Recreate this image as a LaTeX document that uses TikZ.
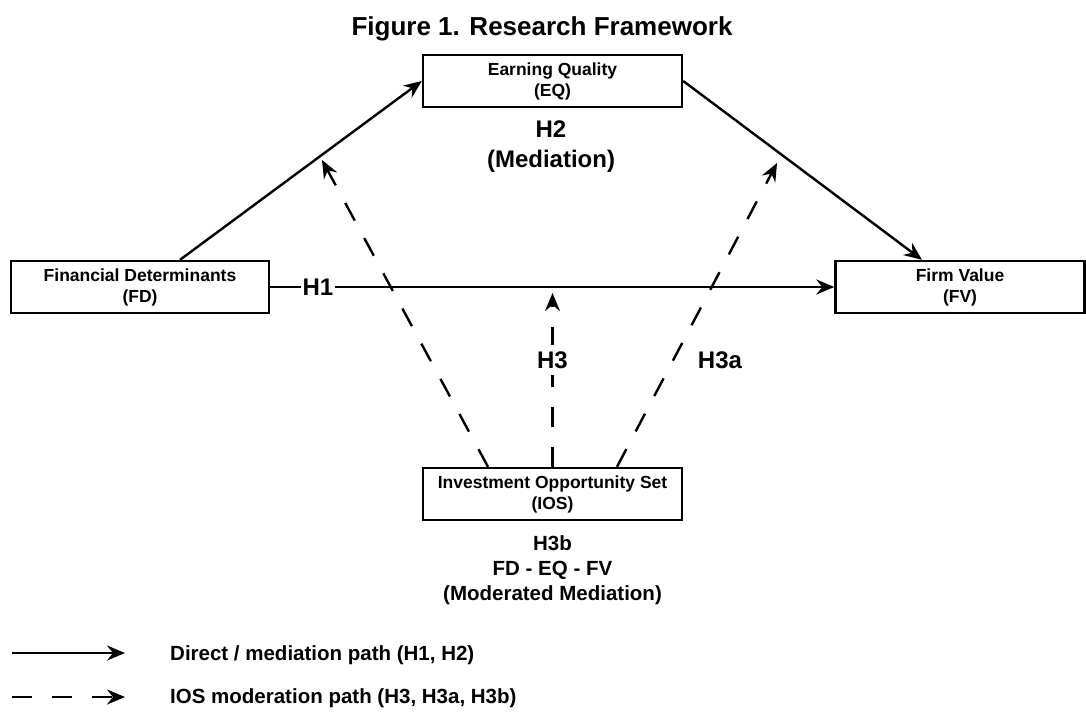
\documentclass[tikz,border=0pt]{standalone}
\usepackage{fontspec}
\setmainfont{Liberation Sans}
\usetikzlibrary{arrows.meta}
\begin{document}
\begin{tikzpicture}[x=1pt,y=-1pt,
  box/.style={draw, line width=2.4pt, minimum height=52pt, inner sep=0pt, align=center,
    font=\fontsize{17.5}{21}\selectfont\bfseries},
  arr/.style={line width=2.4pt, -{Stealth[length=18pt,width=15pt,inset=6pt]}},
  dsh/.style={arr, dash pattern=on 20pt off 20pt},
  lbl/.style={font=\fontsize{24}{30}\selectfont\bfseries, align=center, inner sep=2pt},
  lbls/.style={font=\fontsize{20.5}{25}\selectfont\bfseries, align=center},
  leg/.style={font=\fontsize{20.5}{25}\selectfont\bfseries, anchor=west, inner sep=0pt}
]
\useasboundingbox (0,0) rectangle (1086,716);
\fill[white] (0,0) rectangle (1086,716);

\node[font=\fontsize{26}{30}\selectfont\bfseries] (title) at (542,29) {Figure 1. Research Framework};

\node[box, minimum width=259pt] (EQ) at (552.5,81) {Earning Quality\\(EQ)};
\node[box, minimum width=258pt] (FD) at (140,287) {Financial Determinants\\(FD)};
\node[box, minimum width=249pt] (FV) at (960,287) {Firm Value\\(FV)};
\node[box, minimum width=259pt] (IOS) at (552.5,494) {Investment Opportunity Set\\(IOS)};

% solid paths
\draw[arr] ([xshift=40pt]FD.north) -- (EQ.west);
\draw[arr] (EQ.east) -- ([xshift=-38pt]FV.north);
\draw[arr] (FD.east) -- (FV.west);

% moderation targets
\coordinate (tL) at (322,160);
\coordinate (tM) at (552.5,293);
\coordinate (tR) at (777,163);
\draw[dsh] ([xshift=-64.5pt]IOS.north) -- (tL);
\draw[dsh] (IOS.north) -- (tM);
\draw[dsh] ([xshift=64.5pt]IOS.north) -- (tR);

% labels
\node[lbl, fill=white] (H1) at (318,287) {H1};
\node[lbl] (H2) at (551,147) {H2\\(Mediation)};
\node[lbl, fill=white, inner ysep=6pt] (H3) at (552.5,360) {H3};
\node[lbl] (H3a) at (720,360) {H3a};
\node[lbls] (H3b) at (552.5,570) {H3b\\FD - EQ - FV\\(Moderated Mediation)};

% legend
\coordinate (a1s) at (12,653);
\coordinate (a1e) at (125,653);
\coordinate (a2s) at (12,697);
\coordinate (a2e) at (125,697);
\draw[arr] (a1s) -- (a1e);
\draw[dsh] (a2s) -- (a2e);
\node[leg] (L1) at (170,655) {Direct / mediation path (H1, H2)};
\node[leg] (L2) at (170,698) {IOS moderation path (H3, H3a, H3b)};
\end{tikzpicture}
\end{document}
